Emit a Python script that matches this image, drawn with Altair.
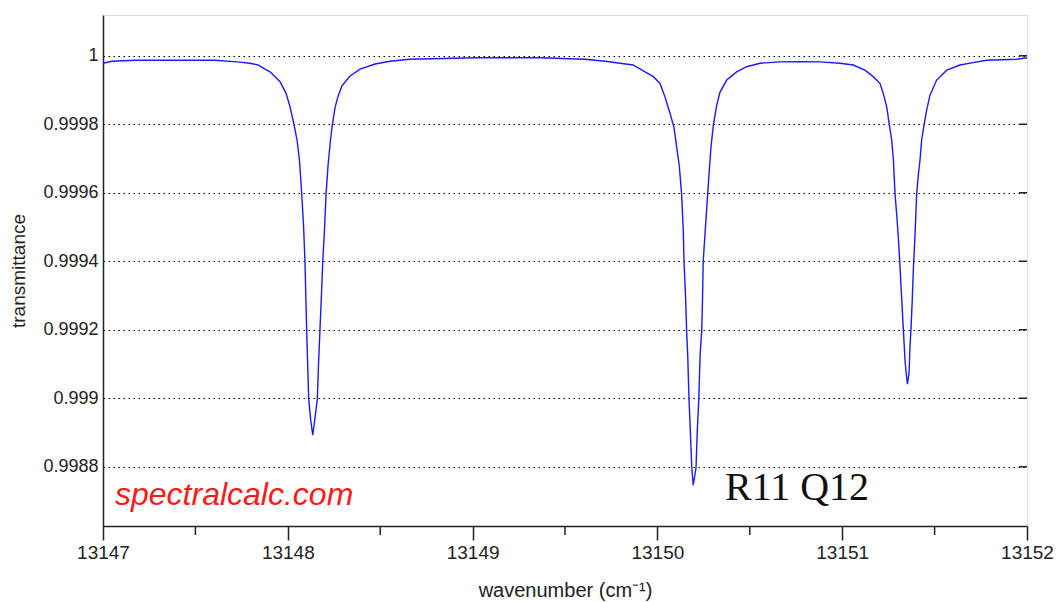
import altair as alt
import pandas as pd

# wavenumber (cm^-1) and transmittance
wavenumber = [
    13147.000, 13147.049, 13147.173, 13147.606, 13147.725, 13147.795, 13147.839, 13147.877,
    13147.904, 13147.958, 13147.990, 13148.012, 13148.034, 13148.050, 13148.063, 13148.074,
    13148.085, 13148.093, 13148.102, 13148.113, 13148.124, 13148.135, 13148.144, 13148.160,
    13148.166, 13148.174, 13148.182, 13148.189, 13148.199, 13148.207, 13148.218, 13148.231,
    13148.241, 13148.255, 13148.272, 13148.293, 13148.337, 13148.391, 13148.472, 13148.553,
    13148.661, 13149.013, 13149.365, 13149.608, 13149.717,
    13149.798, 13149.868, 13149.933, 13149.978, 13150.014, 13150.041, 13150.066, 13150.090,
    13150.104, 13150.118, 13150.131, 13150.140, 13150.144, 13150.153, 13150.158, 13150.164,
    13150.171, 13150.178, 13150.186, 13150.194, 13150.209, 13150.216, 13150.224, 13150.231,
    13150.240, 13150.244, 13150.248, 13150.259, 13150.272, 13150.281, 13150.290, 13150.303,
    13150.321, 13150.339, 13150.375, 13150.429, 13150.483, 13150.555, 13150.663, 13150.772,
    13150.880,
    13150.988, 13151.060, 13151.123, 13151.168, 13151.205, 13151.222, 13151.241, 13151.255,
    13151.268, 13151.277, 13151.286, 13151.295, 13151.304, 13151.311, 13151.320, 13151.331,
    13151.340, 13151.347, 13151.353, 13151.362, 13151.367, 13151.372, 13151.379, 13151.386,
    13151.394, 13151.403, 13151.412, 13151.421, 13151.430, 13151.443, 13151.457, 13151.475,
    13151.511, 13151.566, 13151.637, 13151.708, 13151.782, 13151.944, 13152.000,
]
transmittance = [
    0.999978, 0.999984, 0.999987, 0.999987, 0.999982, 0.999978, 0.999973, 0.999961,
    0.999953, 0.999924, 0.999891, 0.999851, 0.999798, 0.999754, 0.999695, 0.999608,
    0.999506, 0.999398, 0.999199, 0.998998, 0.998936, 0.998892, 0.998930, 0.998998,
    0.999097, 0.999199, 0.999301, 0.999398, 0.999497, 0.999596, 0.999681, 0.999754,
    0.999798, 0.999847, 0.999882, 0.999912, 0.999941, 0.999961, 0.999976, 0.999984,
    0.999990, 0.999994, 0.999994, 0.999990, 0.999984,
    0.999978, 0.999973, 0.999953, 0.999939, 0.999919, 0.999880, 0.999836, 0.999790,
    0.999734, 0.999681, 0.999596, 0.999491, 0.999401, 0.999287, 0.999199, 0.999126,
    0.998998, 0.998907, 0.998797, 0.998746, 0.998797, 0.998907, 0.998998, 0.999126,
    0.999199, 0.999287, 0.999401, 0.999491, 0.999596, 0.999666, 0.999734, 0.999798,
    0.999856, 0.999894, 0.999929, 0.999953, 0.999968, 0.999978, 0.999982, 0.999983,
    0.999982,
    0.999978, 0.999973, 0.999958, 0.999939, 0.999919, 0.999890, 0.999851, 0.999798,
    0.999754, 0.999695, 0.999596, 0.999535, 0.999468, 0.999401, 0.999310, 0.999199,
    0.999111, 0.999068, 0.999041, 0.999076, 0.999155, 0.999199, 0.999287, 0.999389,
    0.999476, 0.999596, 0.999652, 0.999695, 0.999754, 0.999798, 0.999841, 0.999885,
    0.999929, 0.999958, 0.999973, 0.999980, 0.999987, 0.999990, 0.999994,
]

x_ticks = [13147, 13148, 13149, 13150, 13151, 13152]
x_minor_ticks = [13147.5, 13148.5, 13149.5, 13150.5, 13151.5]
y_ticks = [0.9988, 0.999, 0.9992, 0.9994, 0.9996, 0.9998, 1.0]
x_domain = [13147, 13152]
y_domain = [0.998627, 1.000119]

df = pd.DataFrame({"wavenumber": wavenumber, "transmittance": transmittance})
minor_df = pd.DataFrame({"wavenumber": x_minor_ticks})
right_df = pd.DataFrame({"transmittance": y_ticks})

W, H = 924, 511
FONT = "Liberation Sans"

x_scale = alt.Scale(domain=x_domain, nice=False, zero=False)
y_scale = alt.Scale(domain=y_domain, nice=False, zero=False)

line = alt.Chart(df).mark_line(color="#1a1aff", strokeWidth=1.4, interpolate="linear").encode(
    x=alt.X(
        "wavenumber:Q",
        scale=x_scale,
        axis=alt.Axis(
            values=x_ticks, format="d", grid=False, tickSize=14, tickWidth=1.5,
            tickColor="#222", domainColor="#222", domainWidth=1.5,
            labelFont=FONT, labelFontSize=19, labelColor="#222", labelPadding=3,
            labelFlush=False, labelOverlap=False,
            title="wavenumber (cm⁻¹)", titleFont=FONT, titleFontSize=20,
            titleFontWeight="normal", titleColor="#222", titleY=64, titleBaseline="middle",
        ),
    ),
    y=alt.Y(
        "transmittance:Q",
        scale=y_scale,
        axis=alt.Axis(
            values=y_ticks, format=".4~f", grid=True, gridColor="#000",
            gridDash=[1.5, 3.5], gridWidth=1.2, ticks=False,
            domainColor="#222", domainWidth=1.5,
            labelFont=FONT, labelFontSize=18, labelColor="#222", labelPadding=5,
            labelFlush=False,
            title="transmittance", titleFont=FONT, titleFontSize=19,
            titleFontWeight="normal", titleColor="#222", titleX=-85, titleY=H / 2,
            titleBaseline="middle", titleAlign="center",
        ),
    ),
)

minor = alt.Chart(minor_df).mark_rule(color="#222", strokeWidth=1.5).encode(
    x=alt.X("wavenumber:Q", scale=x_scale),
    y=alt.value(H),
    y2=alt.value(H + 9),
)

right_ticks = alt.Chart(right_df).mark_rule(color="#222", strokeWidth=1.5).encode(
    y=alt.Y("transmittance:Q", scale=y_scale),
    x=alt.value(W - 8),
    x2=alt.value(W),
)

brand = alt.Chart(pd.DataFrame({"t": ["spectralcalc.com"]})).mark_text(
    font=FONT, fontSize=32, fontStyle="italic", color="#ff1a1a", align="left", baseline="middle"
).encode(text="t:N", x=alt.value(12), y=alt.value(480))

label = alt.Chart(pd.DataFrame({"t": ["R11 Q12"]})).mark_text(
    font="Liberation Serif", fontSize=40, color="#111", align="left", baseline="middle"
).encode(text="t:N", x=alt.value(622), y=alt.value(473))

chart = alt.layer(line, minor, right_ticks, brand, label).properties(
    width=W, height=H,
    autosize=alt.AutoSizeParams(type="none"),
    padding={"left": 103, "top": 15, "right": 35, "bottom": 76},
).configure_view(stroke="#222", strokeWidth=1.5).configure(background="white")

chart.save("out.html", embed_options={"renderer": "svg", "actions": False})
